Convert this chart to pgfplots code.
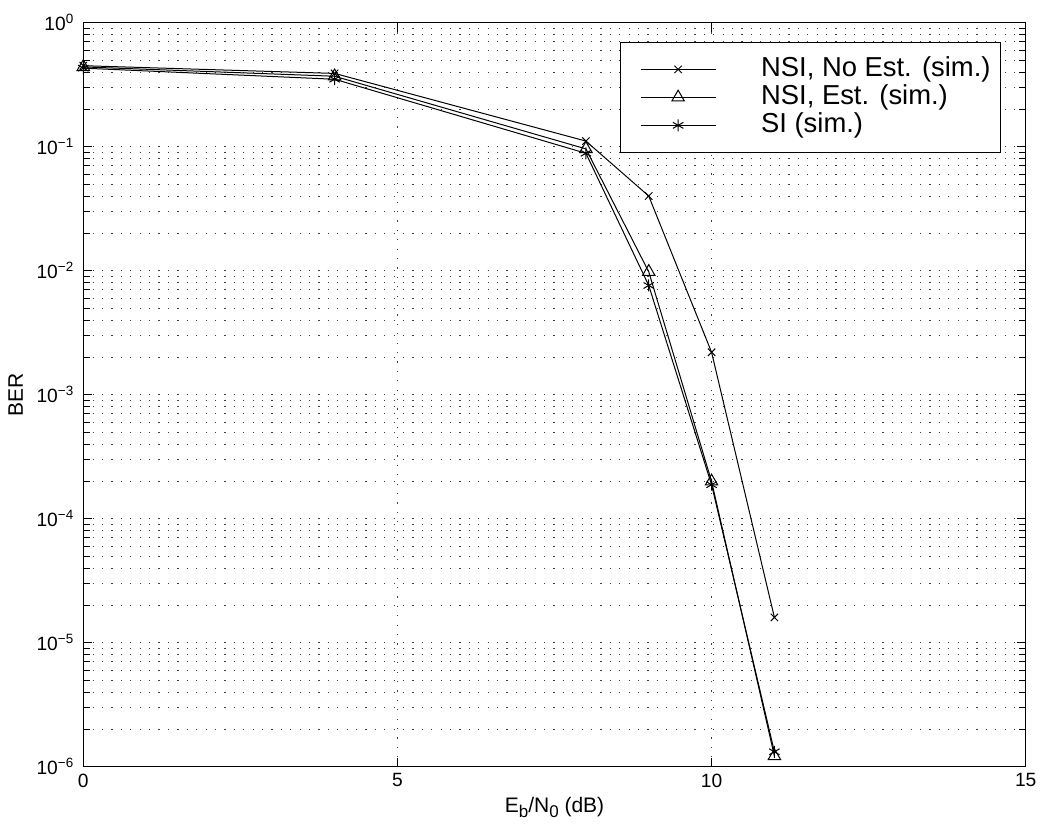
\documentclass[border=0pt]{standalone}
\usepackage{fontspec}
\setmainfont{Liberation Sans}
\usepackage{pgfplots}
\pgfplotsset{compat=1.18}
\begin{document}
\begin{tikzpicture}
\begin{axis}[
  scale only axis,
  width=471.2pt, height=372pt,
  xmin=0, xmax=15,
  ymode=log, ymin=1e-6, ymax=1,
  xtick={0,5,10,15},
  ytick={1e-6,1e-5,1e-4,1e-3,1e-2,1e-1,1},
  yticklabels={10\textsuperscript{−6},10\textsuperscript{−5},10\textsuperscript{−4},10\textsuperscript{−3},10\textsuperscript{−2},10\textsuperscript{−1},10\textsuperscript{0}},
  /pgf/number format/assume math mode=true,
  xticklabel style={font=\fontsize{9.6}{11}\selectfont},
  yticklabel style={font=\fontsize{9.6}{11}\selectfont, xshift=-1pt},
  xtick pos=both, ytick pos=both,
  tick align=inside,
  major tick length=4.5pt, minor tick length=3.2pt,
  axis line style={line width=0.7pt},
  every tick/.style={black, line width=0.5pt},
  xmajorgrids, ymajorgrids, yminorgrids,
  grid style={dash pattern=on 0.6pt off 4.1pt, black!75, line width=0.45pt},
  minor grid style={dash pattern=on 0.6pt off 4.1pt, black!75, line width=0.45pt},
  xlabel={E\raisebox{-2.6pt}{\fontsize{8.5}{9}\selectfont b}/N\raisebox{-2.6pt}{\fontsize{8.5}{9}\selectfont 0} (dB)},
  ylabel={BER},
  label style={font=\fontsize{10.5}{12}\selectfont},
  xlabel style={yshift=2pt},
  legend cell align=left,
  legend style={at={(0.974,0.9745)}, anchor=north east, draw=black, line width=0.7pt,
    font=\fontsize{13.7}{15}\selectfont, inner xsep=3pt, inner ysep=6.5pt,
    nodes={inner xsep=2pt, inner ysep=0.5pt, text height=10pt, text depth=3pt},
    row sep=0pt,
    /tikz/every odd column/.append style={column sep=20.5pt}},
  legend image code/.code={
    \draw[mark repeat=2,mark phase=2,#1] plot coordinates {(0pt,0pt) (18.75pt,0pt) (37.5pt,0pt)};
    \path[draw=none,fill=none] (-7pt,0pt) -- (37.5pt,0pt);
  },
]
\addplot[black, line width=0.5pt, mark=x, mark size=2.6pt, mark options={solid, line width=0.5pt}]
  coordinates {(0,0.45)(4,0.39)(8,0.111)(9,0.040)(10,2.2e-3)(11,1.6e-5)};
\addlegendentry{NSI, No Est. (sim.)}
\addplot[black, line width=0.5pt, mark=triangle, mark size=3.6pt, mark options={solid, line width=0.5pt}]
  coordinates {(0,0.44)(4,0.37)(8,0.096)(9,0.0098)(10,2.0e-4)(11,1.22e-6)};
\addlegendentry{NSI, Est. (sim.)}
\addplot[black, line width=0.5pt, mark=asterisk, mark size=3pt, mark options={solid, line width=0.5pt}]
  coordinates {(0,0.43)(4,0.35)(8,0.0885)(9,0.0076)(10,1.88e-4)(11,1.32e-6)};
\addlegendentry{SI (sim.)}
\coordinate (bl) at (rel axis cs:0,0);
\coordinate (tr) at (rel axis cs:1,1);
\end{axis}
\path (bl) ++(-41.65pt,-31.15pt) coordinate (p1);
\path (tr) ++(9.15pt,11.35pt) coordinate (p2);
\pgfresetboundingbox
\path (p1) rectangle (p2);
\end{tikzpicture}
\end{document}
